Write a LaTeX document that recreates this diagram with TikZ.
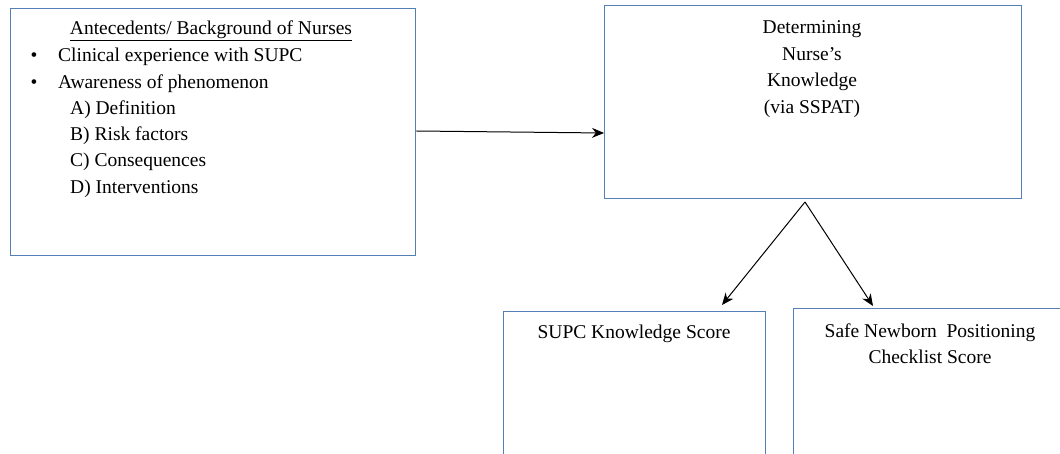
\documentclass[tikz,border=0pt]{standalone}
\usepackage{fontspec}
\setmainfont{Liberation Serif}
\usetikzlibrary{arrows.meta}
\definecolor{boxblue}{RGB}{84,128,182}
\tikzset{
  box/.style={draw=boxblue, line width=1.4pt, inner sep=0pt, anchor=north west},
  txt/.style={font=\fontsize{19.5}{26.4}\selectfont, inner sep=0pt, text=black, text height=14pt, text depth=4.5pt},
  conn/.style={draw=black, line width=1pt, -{Stealth[length=12pt,width=10pt]}}
}
\begin{document}
\begin{tikzpicture}[x=1pt,y=1pt]
\useasboundingbox (0,0) rectangle (1060,-454);
\clip (0,0) rectangle (1060,-454);
\fill[white] (0,0) rectangle (1060,-454);
% boxes
\node[box, minimum width=405pt, minimum height=247pt] (b1) at (10,-8) {};
\node[box, minimum width=417pt, minimum height=193pt] (b2) at (604,-5) {};
\node[box, minimum width=262pt, minimum height=170pt] (b3) at (503,-311) {};
\node[box, minimum width=275pt, minimum height=170pt] (b4) at (793,-308) {};
% box 1 text
\node[txt] (t1) at (211,-30) {\underline{Antecedents/ Background of Nurses}};
\node[txt] (bu1) at (34,-57) {•};
\node[txt, anchor=west] (l1) at (58,-57) {Clinical experience with SUPC};
\node[txt] (bu2) at (34,-84) {•};
\node[txt, anchor=west] (l2) at (58,-84) {Awareness of phenomenon};
\node[txt, anchor=west] (l3) at (70,-110) {A) Definition};
\node[txt, anchor=west] (l4) at (70,-136) {B) Risk factors};
\node[txt, anchor=west] (l5) at (70,-162) {C) Consequences};
\node[txt, anchor=west] (l6) at (70,-189) {D) Interventions};
% box 2 text
\node[txt] (d1) at (812,-29) {Determining};
\node[txt] (d2) at (812,-56) {Nurse’s};
\node[txt] (d3) at (812,-82) {Knowledge};
\node[txt] (d4) at (812,-109) {(via SSPAT)};
% box 3, 4 text
\node[txt] (s1) at (634,-334) {SUPC Knowledge Score};
\node[txt] (n1) at (930,-333) {Safe Newborn\ \ Positioning};
\node[txt] (n2) at (930,-359) {Checklist Score};
% connectors
\coordinate (e2) at (604,-133);
\coordinate (apex) at (805,-202);
\coordinate (e3) at (722,-305);
\coordinate (e4) at (873,-306);
\draw[conn] (b1.east |- 0,-131) -- (e2);
\draw[conn] (apex) -- (e3);
\draw[conn] (apex) -- (e4);
\end{tikzpicture}
\end{document}
